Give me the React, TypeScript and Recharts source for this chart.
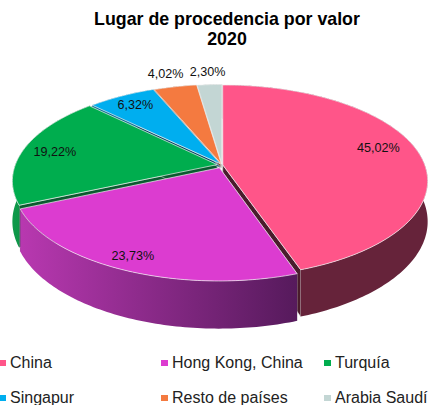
import { Legend, Pie, PieChart } from "recharts";

const categories = ["China", "Hong Kong, China", "Turquía", "Singapur", "Resto de países", "Arabia Saudí"];
const values = [45.02, 23.73, 19.22, 6.32, 4.02, 2.3];
const colors = ["#FF5589", "#DC3CD0", "#00AD4E", "#00AEEF", "#F47A40", "#C3D6D4"];
const wallLeft = ["#66233A", "#B838B0", "#0E9A4A", "#0A6E96", "#A0522D", "#8CA09E"];
const wallRight = ["#66233A", "#561A5C", "#0B6B35", "#0A6E96", "#A0522D", "#8CA09E"];
const edgeColors = ["#4A1C2C", "#4A1848", "#0B5A30", "#0A4A66", "#7A3E22", "#7E8E8C"];
const explodeBy = [0.004, 0.032, 0.024, 0.016, 0.012, 0.008];
const edgeDepth = [1, 1, 1, 0.1, 0.1, 0.1];
const labelRadius = [0.82, 0.92, 0.86, 0.86, 1.21, 1.2];
const labelTurn = [3.8, -0.8, 0.7, 0, 0.6, 0];

const chartData = categories.map((name, i) => ({ name, value: values[i], fill: colors[i] }));

const PERSPECTIVE = 0.1667;
const TILT = 0.462;
const DEPTH = 39.5;
const RAD = Math.PI / 180;

const project = (p: any, angle: number, r: number, explode: number) => {
  const mid = ((p.startAngle + p.endAngle) / 2) * RAD;
  const u = r * Math.cos(angle * RAD) + explode * Math.cos(mid);
  const v = r * Math.sin(angle * RAD) + explode * Math.sin(mid);
  const den = 1 + PERSPECTIVE * v;
  return {
    x: p.cx + (p.outerRadius * u) / den,
    y: p.cy - (p.outerRadius * TILT * v) / den,
    d: DEPTH / den,
  };
};

const arcPoints = (p: any, i: number) => {
  const steps = Math.max(4, Math.ceil(Math.abs(p.endAngle - p.startAngle)));
  const pts = [];
  for (let s = 0; s <= steps; s++) {
    pts.push(project(p, p.startAngle + ((p.endAngle - p.startAngle) * s) / steps, 1, explodeBy[i]));
  }
  return pts;
};

const toPath = (pts: { x: number; y: number }[]) =>
  "M" + pts.map((q) => `${q.x.toFixed(2)},${q.y.toFixed(2)}`).join("L") + "Z";

const down = (q: any, scale = 1) => ({ x: q.x, y: q.y + q.d * scale });

function RadialWalls(p: any) {
  const i = categories.indexOf(p.name);
  const apex = project(p, p.startAngle, 0, explodeBy[i]);
  const arc = arcPoints(p, i);
  const ends = [arc[0], arc[arc.length - 1]];
  return (
    <g>
      {ends.map((e, k) => (
        <path
          key={k}
          d={toPath([apex, e, down(e, edgeDepth[i]), down(apex, edgeDepth[i])])}
          fill={edgeColors[i]}
          stroke="#d8d8d8"
          strokeWidth={0.5}
        />
      ))}
    </g>
  );
}

function OuterWall(p: any) {
  const i = categories.indexOf(p.name);
  const arc = arcPoints(p, i);
  const id = `wall-${i}`;
  return (
    <g>
      <defs>
        <linearGradient id={id} x1="0" x2="1" y1="0" y2="0">
          <stop offset="0%" stopColor={wallLeft[i]} />
          <stop offset="100%" stopColor={wallRight[i]} />
        </linearGradient>
      </defs>
      <path d={toPath([...arc, ...arc.map((q) => down(q)).reverse()])} fill={`url(#${id})`} />
    </g>
  );
}

function TopFace(p: any) {
  const i = categories.indexOf(p.name);
  const apex = project(p, p.startAngle, 0, explodeBy[i]);
  return <path d={toPath([apex, ...arcPoints(p, i)])} fill={p.fill} stroke="#f0f0f0" strokeWidth={0.7} />;
}

function PercentLabel(p: any) {
  const i = categories.indexOf(p.name);
  const q = project({ ...p, startAngle: 0, endAngle: 0 }, p.midAngle + labelTurn[i], labelRadius[i], 0);
  return (
    <text x={q.x} y={q.y} textAnchor="middle" dominantBaseline="central" fontFamily="Liberation Sans" fontSize={12.6} fill="#111">
      {values[i].toFixed(2).replace(".", ",")}%
    </text>
  );
}

function LegendRows({ payload }: any) {
  const items = categories.map((name) => (payload ?? []).find((it: any) => it.value === name)).filter(Boolean);
  return (
    <div style={{ display: "grid", gridTemplateColumns: "162px 163px 104px", marginLeft: -1, fontFamily: "Liberation Sans", fontSize: 16, color: "#222" }}>
      {items.map((item: any) => (
        <div key={item.value} style={{ display: "flex", alignItems: "center", height: 35, whiteSpace: "nowrap" }}>
          <span style={{ width: 7, height: 6, background: item.color, marginRight: 4, flex: "none" }} />
          {item.value}
        </div>
      ))}
    </div>
  );
}

const pieBase = {
  data: chartData,
  dataKey: "value",
  nameKey: "name",
  cx: 222,
  cy: 165,
  outerRadius: 202,
  startAngle: 90,
  endAngle: -270,
  stroke: "none",
  labelLine: false,
  isAnimationActive: false,
};

export default function App() {
  return (
    <div style={{ position: "absolute", left: 0, top: 0, width: 428, height: 405, overflow: "hidden", background: "#fff" }}>
      <PieChart width={428} height={405} margin={{ top: 0, right: 0, bottom: 0, left: 0 }}>
        <text x={227} y={25} textAnchor="middle" fontFamily="Liberation Sans" fontWeight="bold" fontSize={17.8}>
          Lugar de procedencia por valor
        </text>
        <text x={227} y={45} textAnchor="middle" fontFamily="Liberation Sans" fontWeight="bold" fontSize={17.8}>
          2020
        </text>
        <Pie {...pieBase} legendType="none" shape={RadialWalls} />
        <Pie {...pieBase} legendType="none" shape={OuterWall} />
        <Pie {...pieBase} shape={TopFace} label={PercentLabel} />
        <Legend content={LegendRows} itemSorter={null} wrapperStyle={{ left: 0, top: 345, width: 428 }} />
      </PieChart>
    </div>
  );
}
